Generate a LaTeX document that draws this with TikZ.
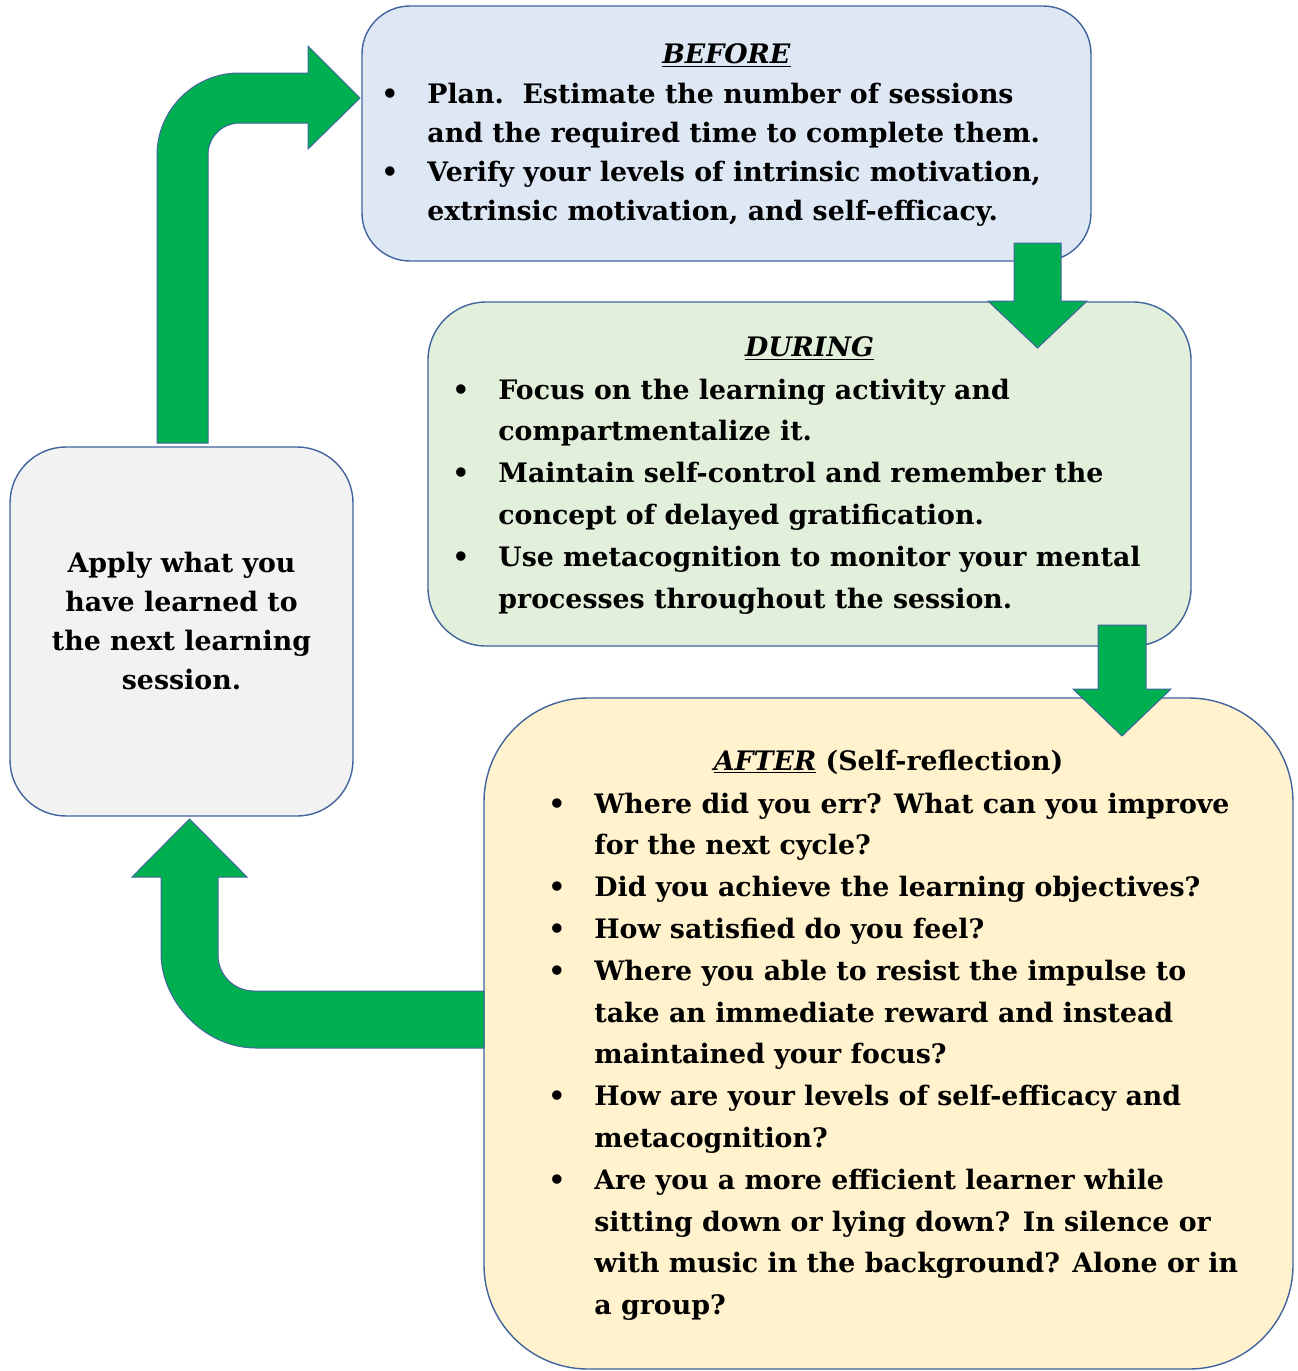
\documentclass[tikz,border=0pt]{standalone}
\usepackage{fontspec}
\setmainfont{DejaVu Serif}
\usetikzlibrary{fit}
\definecolor{edgeblue}{HTML}{41649E}
\definecolor{arrowgreen}{HTML}{00B050}
\definecolor{beforefill}{HTML}{DEE8F5}
\definecolor{duringfill}{HTML}{E2EFDA}
\definecolor{afterfill}{HTML}{FFF2CC}
\definecolor{applyfill}{HTML}{F2F2F2}
\newcommand{\bul}{\makebox[23pt][l]{\textbullet}}

\begin{document}
\begin{tikzpicture}[x=0.5pt,y=-0.5pt,
	phase/.style={draw=edgeblue,line width=0.7pt,inner sep=0pt},
	blockarrow/.style={fill=arrowgreen,draw=edgeblue,line width=0.5pt},
	heading/.style={anchor=base,inner sep=0pt,font=\fontsize{13.4}{19.5}\selectfont\bfseries},
	items/.style={anchor=base west,inner sep=0pt,font=\fontsize{13.4}{#1}\selectfont\bfseries}]
	\useasboundingbox (0,0) rectangle (1297,1371);
	% the four phases
	\node[phase,fill=beforefill,rounded corners=24pt,fit={(362,6) (1091,261)}] (before) {};
	\node[phase,fill=duringfill,rounded corners=29pt,fit={(428,302) (1191,646)}] (during) {};
	\node[phase,fill=afterfill,rounded corners=52pt,fit={(484,698) (1293,1369)}] (after) {};
	\node[phase,fill=applyfill,rounded corners=28pt,fit={(10,447) (353,816)}] (apply) {};
	% block arrows between them
	\draw[blockarrow] (1014,243) -- (1061,243) -- (1061,301) -- (1087,301) -- (1037.5,348)
		-- (988,301) -- (1014,301) -- cycle;
	\draw[blockarrow] (1098,625) -- (1146,625) -- (1146,689) -- (1171,689) -- (1122,736)
		-- (1073,689) -- (1098,689) -- cycle;
	\draw[blockarrow] (484,1048) -- (256,1048) .. controls (204,1048) and (161,1001) .. (161,953)
		-- (161,877) -- (132,877) -- (189.5,819) -- (247,877) -- (218,877) -- (218,955)
		.. controls (218,975) and (234,991) .. (254,991) -- (484,991) -- cycle;
	\draw[blockarrow] (157,443) -- (157,155) .. controls (157,110) and (194,73) .. (239,73)
		-- (308,73) -- (308,46) -- (360,98) -- (308,149) -- (308,123) -- (240,123)
		.. controls (222,123) and (208,137) .. (208,155) -- (208,443) -- cycle;
	% texts
	\node[heading] (beforetitle) at (before.center |- 0,63) {\underline{\textit{BEFORE}}};
	\node[items=19.5] (beforelist) at (381,103) {\begin{tabular}[t]{@{}l@{}l@{}}
		\bul & Plan.\ \ Estimate the number of sessions\\
		& and the required time to complete them.\\
		\bul & Verify your levels of intrinsic motivation,\\
		& extrinsic motivation, and self-efficacy.
	\end{tabular}};
	\node[heading] (duringtitle) at (during.center |- 0,356) {\underline{\textit{DURING}}};
	\node[items=20.9] (duringlist) at (452,399) {\begin{tabular}[t]{@{}l@{}l@{}}
		\bul & Focus on the learning activity and\\
		& compartmentalize it.\\
		\bul & Maintain self-control and remember the\\
		& concept of delayed gratification.\\
		\bul & Use metacognition to monitor your mental\\
		& processes throughout the session.
	\end{tabular}};
	\node[heading] (aftertitle) at (after.center |- 0,770) {\underline{\textit{AFTER}} (Self-reflection)};
	\node[items=20.9] (afterlist) at (548,813) {\begin{tabular}[t]{@{}l@{}l@{}}
		\bul & Where did you err? What can you improve\\
		& for the next cycle?\\
		\bul & Did you achieve the learning objectives?\\
		\bul & How satisfied do you feel?\\
		\bul & Where you able to resist the impulse to\\
		& take an immediate reward and instead\\
		& maintained your focus?\\
		\bul & How are your levels of self-efficacy and\\
		& metacognition?\\
		\bul & Are you a more efficient learner while\\
		& sitting down or lying down? In silence or\\
		& with music in the background? Alone or in\\
		& a group?
	\end{tabular}};
	\node[heading] (applytext) at (apply.center |- 0,572) {\begin{tabular}[t]{@{}c@{}}
		Apply what you\\ have learned to\\ the next learning\\ session.
	\end{tabular}};
\end{tikzpicture}
\end{document}
